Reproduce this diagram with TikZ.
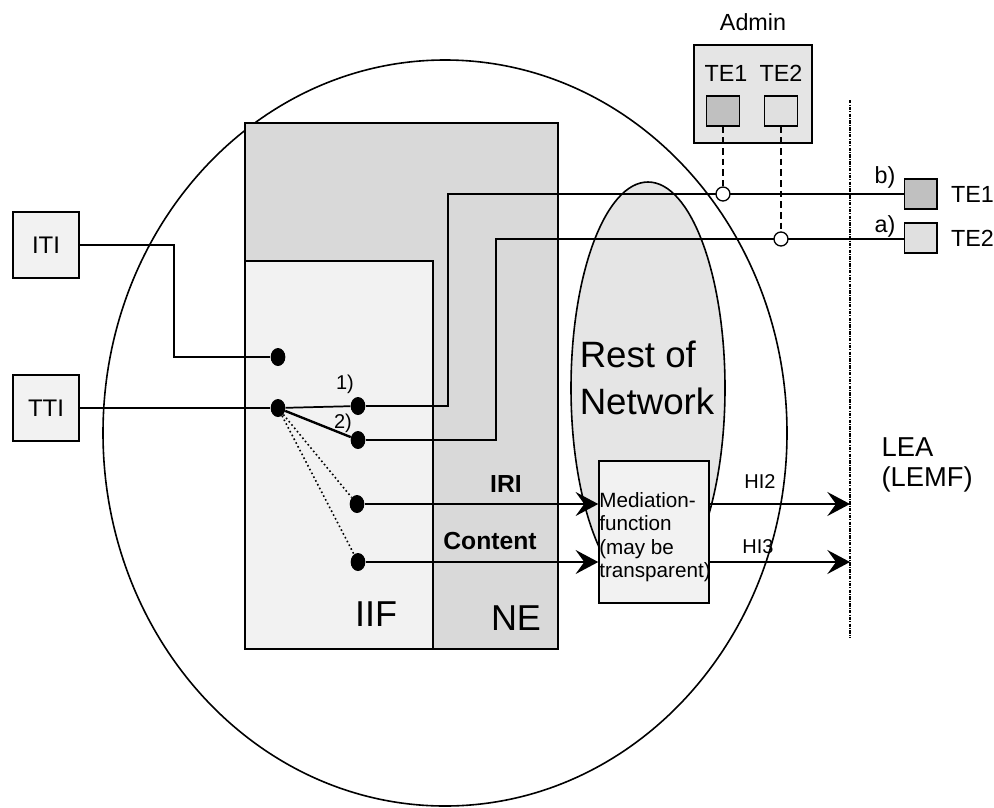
\documentclass[tikz,border=0pt]{standalone}
\usepackage{fontspec}
\setmainfont{Liberation Sans}
\usepackage{tikz}
\usetikzlibrary{shapes.geometric, arrows.meta, positioning}
\definecolor{lightfill}{HTML}{F2F2F2}
\definecolor{nefill}{HTML}{D9D9D9}
\definecolor{cloudfill}{HTML}{E5E5E5}
\definecolor{darkte}{HTML}{C0C0C0}
\definecolor{lightte}{HTML}{E0E0E0}
\tikzstyle{txt} = [inner sep=1pt, font=\fontsize{17.5}{20}\selectfont]
\tikzstyle{bigtxt} = [inner sep=1pt, align=left, font=\fontsize{27}{35}\selectfont]
\tikzstyle{termbox} = [rectangle, draw=black, line width=1pt, fill=lightfill, minimum width=49.5pt, minimum height=49.5pt, font=\fontsize{18}{20}\selectfont]
\tikzstyle{region} = [rectangle, draw=black, line width=1.2pt, inner sep=0pt]
\tikzstyle{tebox} = [rectangle, draw=black, line width=1pt, minimum width=24.5pt, minimum height=22.5pt, inner sep=0pt]
\tikzstyle{dot} = [ellipse, fill=black, minimum width=11pt, minimum height=13.5pt, inner sep=0pt]
\tikzstyle{knot} = [circle, draw=black, line width=1pt, fill=white, minimum size=10.5pt, inner sep=0pt]
\tikzstyle{line} = [draw, line width=1.3pt]
\tikzstyle{arrowline} = [draw, line width=1.4pt, -{Stealth[length=17pt, width=18pt, inset=6.5pt]}]

\begin{document}
\begin{tikzpicture}[x=0.75pt, y=-0.75pt]
    \useasboundingbox (0,0) rectangle (994,807);
    % Network boundary
    \draw [line width=1.2pt] (445,433) ellipse [x radius=256.5pt, y radius=279.75pt];

    % Nodes
    \node [region, fill=nefill, minimum width=234.75pt, minimum height=394.5pt] (ne) at (401.5,386) {};
    \node [region, fill=lightfill, minimum width=141pt, minimum height=291pt] (iif) at (339,455) {};
    \node [bigtxt] at (376,614) {IIF};
    \node [bigtxt] at (516,618) {NE};
    \node [ellipse, draw=black, line width=1.2pt, fill=cloudfill, minimum width=115.5pt, minimum height=309pt, inner sep=0pt] (rest) at (648,388) {};
    \node [bigtxt, font=\fontsize{27.5}{35}\selectfont] at (647,378) {Rest of\\Network};

    \node [termbox] (iti) at (46,245) {ITI};
    \node [termbox] (tti) at (46,408) {TTI};

    \node [dot] (d0) at (278,357) {};
    \node [dot] (dt) at (278,408) {};
    \node [dot] (d1) at (358,406) {};
    \node [dot] (d2) at (358,440) {};
    \node [dot] (d3) at (357,504) {};
    \node [dot] (d4) at (358,562) {};

    \node [rectangle, draw=black, line width=1.1pt, fill=cloudfill, minimum width=88.5pt, minimum height=73.5pt] (admin) at (753,94) {};
    \node [txt] at (753,22) {Admin};
    \node [tebox, fill=darkte] (adm1) at (723,111) {};
    \node [tebox, fill=lightte] (adm2) at (781,111) {};
    \node [txt] at (726,73) {TE1};
    \node [txt] at (781,73) {TE2};

    \node [tebox, fill=darkte] (te1) at (920.5,194) {};
    \node [tebox, fill=lightte] (te2) at (920.5,238) {};
    \node [txt, right=9pt of te1] {TE1};
    \node [txt, right=9pt of te2] {TE2};
    \node [txt] at (885,177) {b)};
    \node [txt] at (885,226) {a)};

    \coordinate (leatop) at (850,100);
    \coordinate (leabot) at (850,638);
    \node [txt, anchor=west, align=left, font=\fontsize{20.5}{22.5}\selectfont] at (880,465) {LEA\\(LEMF)};

    \coordinate (bend0) at (174,357);
    \coordinate (bend1) at (448,194);
    \coordinate (bend2) at (496,239);

    % Edges
    \path [line] (iti) -| (bend0) -- (d0);
    \path [line] (tti) -- (dt);
    \path [line] (dt) -- (d1);
    \path [line, line width=1.8pt] (dt) -- (d2);
    \path [draw, dotted, line width=1.2pt] (dt) -- (d3);
    \path [draw, dotted, line width=1.2pt] (dt) -- (d4);
    \node [txt, font=\fontsize{15}{17}\selectfont] at (345,384) {1)};
    \node [txt, font=\fontsize{15}{17}\selectfont] at (343,423) {2)};

    \path [line] (d1) -| (bend1) -- (bend1 -| te1.west);
    \path [line] (d2) -| (bend2) -- (bend2 -| te2.west);
    \node [knot] (k1) at (723,194) {};
    \node [knot] (k2) at (781,239) {};
    \path [draw, line width=1.3pt, dash pattern=on 5pt off 3pt] (adm1) -- (k1);
    \path [draw, line width=1.3pt, dash pattern=on 5pt off 3pt] (adm2) -- (k2);

    \draw [line width=1pt, dash pattern=on 2.5pt off 1pt on 0.6pt off 1pt] (leatop) -- (leabot);

    \node [rectangle, draw=black, line width=1.1pt, fill=lightfill, minimum width=82.5pt, minimum height=106.5pt] (med) at (654,532) {};
    \node [align=left, inner sep=0pt, font=\fontsize{15.5}{17.6}\selectfont] at (655,537) {Mediation-\\function\\(may be\\transparent)};

    \path [arrowline] (d3) -- (d3 -| med.west);
    \path [arrowline] (d4) -- (d4 -| med.west);
    \path [arrowline] (d3 -| med.east) -- (d3 -| leatop);
    \path [arrowline] (d4 -| med.east) -- (d4 -| leatop);
    \node [txt, font=\bfseries\fontsize{18.5}{20}\selectfont] at (506,484) {IRI};
    \node [txt, font=\bfseries\fontsize{18.5}{20}\selectfont] at (490,541) {Content};
    \node [txt, font=\fontsize{15}{17}\selectfont] at (760,482) {HI2};
    \node [txt, font=\fontsize{15}{17}\selectfont] at (758,547) {HI3};
\end{tikzpicture}
\end{document}
